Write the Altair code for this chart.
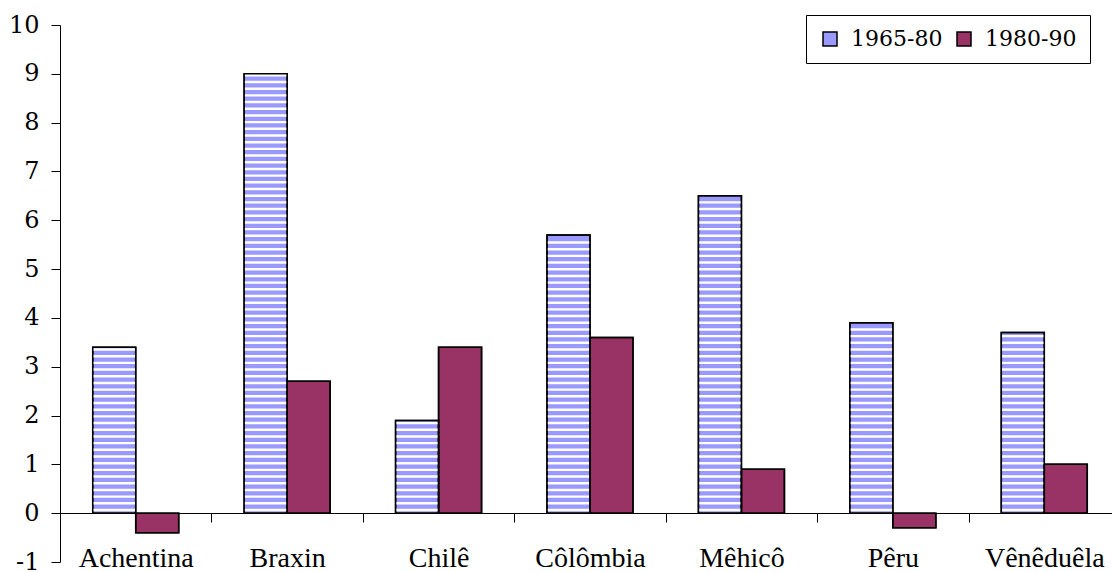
import altair as alt
import numpy as np
import pandas as pd

# Average annual growth by country, two periods
countries = ["Achentina", "Braxin", "Chilê", "Côlômbia", "Mêhicô", "Pêru", "Vênêduêla"]
series = ["1965-80", "1980-90"]
growth_6580 = [3.4, 9.0, 1.9, 5.7, 6.5, 3.9, 3.7]
growth_8090 = [-0.4, 2.7, 3.4, 3.6, 0.9, -0.3, 1.0]

FONT = "Liberation Serif"
NUM_FONT = "DejaVu Serif"
BLUE = "#9999FF"
MAROON = "#993366"

rows = []
for c, a, b in zip(countries, growth_6580, growth_8090):
    rows.append({"country": c, "series": series[0], "value": a})
    rows.append({"country": c, "series": series[1], "value": b})
df = pd.DataFrame(rows)

# horizontal white hatching inside the 1965-80 bars
STRIPE_STEP = 0.137
STRIPE_THICK = 0.05
stripe_rows = []
for c, a in zip(countries, growth_6580):
    for y in np.arange(0.04, a - STRIPE_THICK, STRIPE_STEP):
        stripe_rows.append({"country": c, "series": series[0],
                            "y0": float(y), "y1": float(y + STRIPE_THICK)})
stripes = pd.DataFrame(stripe_rows)

x_enc = alt.X(
    "country:N",
    sort=countries,
    scale=alt.Scale(range=[0, 1060], paddingInner=0, paddingOuter=0),
    axis=alt.Axis(
        title=None, labelAngle=0, labelFontSize=28, labelFont=FONT,
        labelPadding=22, tickSize=9, tickBand="extent", offset=-49,
    ),
)
xoff_enc = alt.XOffset(
    "series:N",
    scale=alt.Scale(domain=series, paddingInner=0, paddingOuter=0.761),
)
y_scale = alt.Scale(domain=[-1, 10], nice=False, zero=False)
y_axis = alt.Axis(
    title=None, values=list(range(-1, 11)), labelFontSize=24,
    labelFont=NUM_FONT, labelPadding=12, tickSize=9,
    labelExpr="'' + datum.value",
)

bars = alt.Chart(df).mark_bar(stroke="black", strokeWidth=1.5).encode(
    x=x_enc,
    xOffset=xoff_enc,
    y=alt.Y("value:Q", scale=y_scale, axis=y_axis),
    fill=alt.Fill(
        "series:N",
        scale=alt.Scale(domain=series, range=[BLUE, MAROON]),
        legend=alt.Legend(
            title=None, orient="none", legendX=746, legendY=-10,
            direction="horizontal", columns=2, labelFont=NUM_FONT,
        ),
    ),
)

hatch = alt.Chart(stripes).mark_bar(color="white", strokeWidth=0).encode(
    x=alt.X("country:N", sort=countries),
    xOffset=xoff_enc,
    y=alt.Y("y0:Q", scale=y_scale),
    y2="y1:Q",
)

outlines = alt.Chart(df).mark_bar(
    fillOpacity=0, stroke="black", strokeWidth=1.5
).encode(
    x=alt.X("country:N", sort=countries),
    xOffset=xoff_enc,
    y=alt.Y("value:Q", scale=y_scale),
)

chart = (
    alt.layer(bars, hatch, outlines)
    .properties(
        width=1052, height=537,
        autosize=alt.AutoSizeParams(type="none"),
        padding={"left": 60, "top": 25, "right": 0, "bottom": 10},
        background="white",
    )
    .configure_view(stroke=None)
    .configure_axis(
        labelColor="black", tickColor="black",
        domainColor="black", grid=False,
    )
    .configure_legend(
        labelFontSize=22, labelColor="black",
        strokeColor="black", fillColor="white", padding=13,
        symbolType="square", symbolSize=196, symbolStrokeColor="black",
        symbolStrokeWidth=1.5, labelOffset=10, columnPadding=10,
        cornerRadius=0,
    )
)

chart.save("out.html", embed_options={"renderer": "svg", "actions": False})
